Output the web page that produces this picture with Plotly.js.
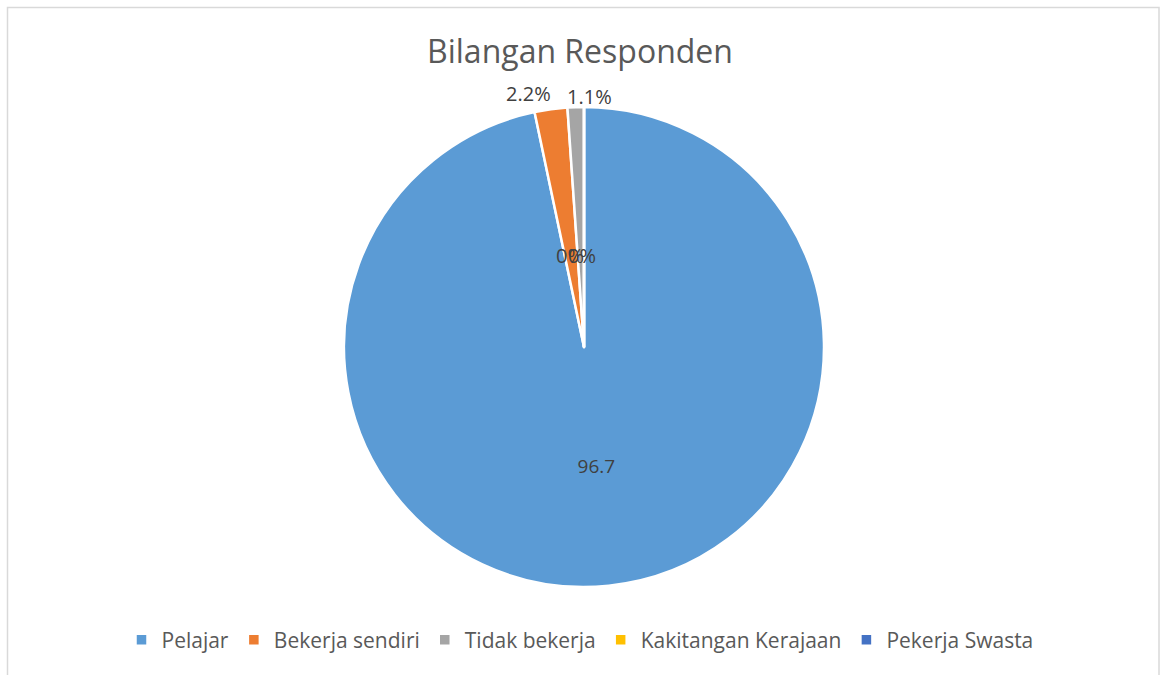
<!DOCTYPE html>
<html>
<head>
<meta charset="utf-8">
<script src="https://cdn.plot.ly/plotly-3.0.1.min.js"></script>
<style>
html,body{margin:0;padding:0;background:#fff;}
#chart{width:1160px;height:675px;}
</style>
</head>
<body>
<div id="chart"></div>
<script>
const categories = ["Pelajar", "Bekerja sendiri", "Tidak bekerja", "Kakitangan Kerajaan", "Pekerja Swasta"];
const values = [96.7, 2.2, 1.1, 0, 0];
const labelText = ["96.7", "2.2%", "1.1%", "0%", "0%"];
const colors = ["#5B9BD5", "#ED7D31", "#A5A5A5", "#FFC000", "#4472C4"];

const W = 1160, H = 675;
const cx = 584, cy = 347, r = 240;
const FONT = "'Open Sans', 'Noto Sans', sans-serif";

// label positions (pixels) where the reference places the small-slice labels
const labelPx = [null, [528, 94], [589, 96], [570, 255], [582, 255]];

const trace = {
  type: "pie",
  labels: categories,
  values: values,
  text: labelText,
  textinfo: "text",
  textposition: ["inside", "none", "none", "none", "none"],
  insidetextorientation: "horizontal",
  sort: false,
  direction: "clockwise",
  rotation: 0,
  marker: { colors: colors, line: { color: "#ffffff", width: 2.5 } },
  textfont: { family: FONT, size: 19, color: "#404040" },
  insidetextfont: { family: FONT, size: 19, color: "#404040" },
  domain: { x: [(cx - r) / W, (cx + r) / W], y: [1 - (cy + r) / H, 1 - (cy - r) / H] },
  hoverinfo: "label+value"
};

const anns = [];
labelText.forEach((t, i) => {
  if (!labelPx[i]) return;
  anns.push({
    text: t,
    xref: "paper", yref: "paper",
    x: labelPx[i][0] / W, y: 1 - labelPx[i][1] / H,
    xanchor: "center", yanchor: "middle",
    showarrow: false,
    font: { family: FONT, size: 20, color: "#404040" }
  });
});

const layout = {
  width: W, height: H,
  margin: { l: 0, r: 0, t: 0, b: 0 },
  paper_bgcolor: "#ffffff",
  title: {
    text: "Bilangan Responden",
    x: 0.5, xanchor: "center",
    y: 1 - 52 / H, yanchor: "middle",
    font: { family: FONT, size: 32, color: "#595959" }
  },
  showlegend: true,
  legend: {
    orientation: "h",
    x: 0.5, xanchor: "center",
    y: 1 - 640 / H, yanchor: "middle",
    font: { family: FONT, size: 21, color: "#595959" },
    itemwidth: 30,
    traceorder: "normal"
  },
  annotations: anns,
  shapes: [{
    type: "rect", xref: "paper", yref: "paper",
    x0: 7.5 / W, x1: 1159 / W, y0: -0.05, y1: 1 - 7.5 / H,
    line: { color: "#d9d9d9", width: 1.5 }, fillcolor: "rgba(0,0,0,0)"
  }]
};

Plotly.newPlot("chart", [trace], layout, { displayModeBar: false, staticPlot: true });
</script>
</body>
</html>
